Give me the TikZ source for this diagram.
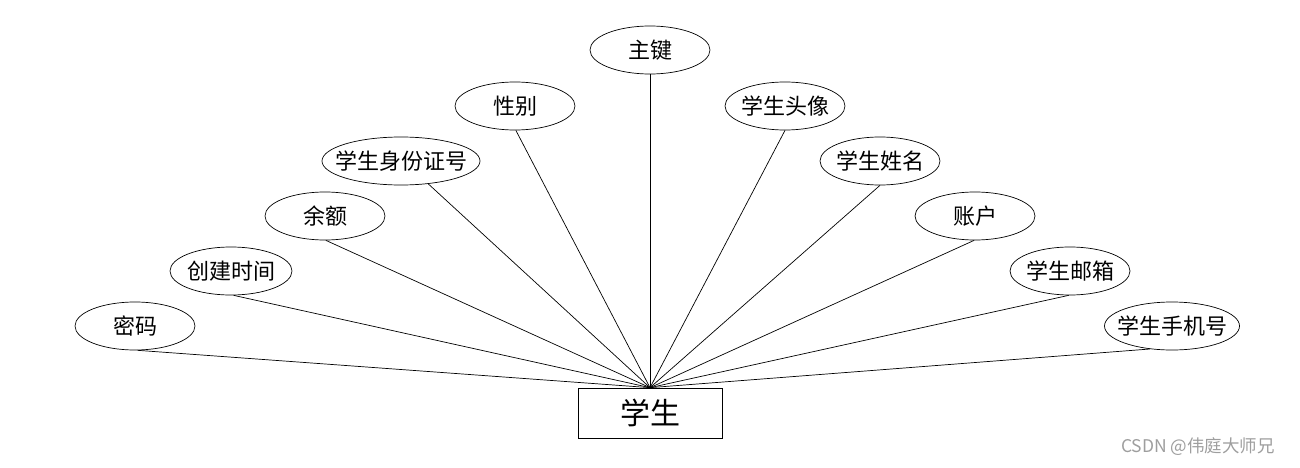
\documentclass[tikz,border=0pt]{standalone}
\usepackage{fontspec}
\setmainfont{Noto Sans CJK SC}
\newfontfamily\cjk{Noto Sans CJK SC}
\usetikzlibrary{shapes.geometric}
\tikzset{
  attr/.style={ellipse, draw, line width=0.7pt, minimum height=48pt, inner sep=0pt, minimum width=#1},
  attr/.default=120pt,
  entity/.style={draw, line width=0.7pt, minimum width=144pt, minimum height=50pt, inner sep=0pt, font=\cjk\fontsize{30}{34}\selectfont},
  link/.style={line width=0.7pt},
  every label/.style={font=\cjk\fontsize{22}{26}\selectfont, inner sep=0pt}
}
\begin{document}
\begin{tikzpicture}[x=1pt,y=-1pt]
\useasboundingbox (0,0) rectangle (1300,468);
\node[entity] (s) at (650,413) {学生};
\node[attr, label=center:密码] (a1) at (135,326) {};
\node[attr=122pt, label=center:创建时间] (a2) at (231,271) {};
\node[attr, label=center:余额] (a3) at (325,216) {};
\node[attr=158pt, label=center:学生身份证号] (a4) at (401,161) {};
\node[attr, label=center:性别] (a5) at (515,106) {};
\node[attr, label=center:主键] (a6) at (650,50) {};
\node[attr, label=center:学生头像] (a7) at (785,106) {};
\node[attr, label=center:学生姓名] (a8) at (880,161) {};
\node[attr, label=center:账户] (a9) at (975,216) {};
\node[attr, label=center:学生邮箱] (a10) at (1070,271) {};
\node[attr=135pt, label=center:学生手机号] (a11) at (1172,326) {};
\foreach \n/\ang in {a1/-84,a2/-84,a3/-88,a4/-40,a5/-88,a6/-90,a7/-90,a8/-90,a9/-92,a10/-93,a11/-134}
  \draw[link] (\n.\ang) -- (s.north);
\node[font=\cjk\fontsize{17.5}{20}\selectfont, text=black!38, inner sep=0pt] (wm) at (1198,447) {CSDN @伟庭大师兄};
\end{tikzpicture}
\end{document}
